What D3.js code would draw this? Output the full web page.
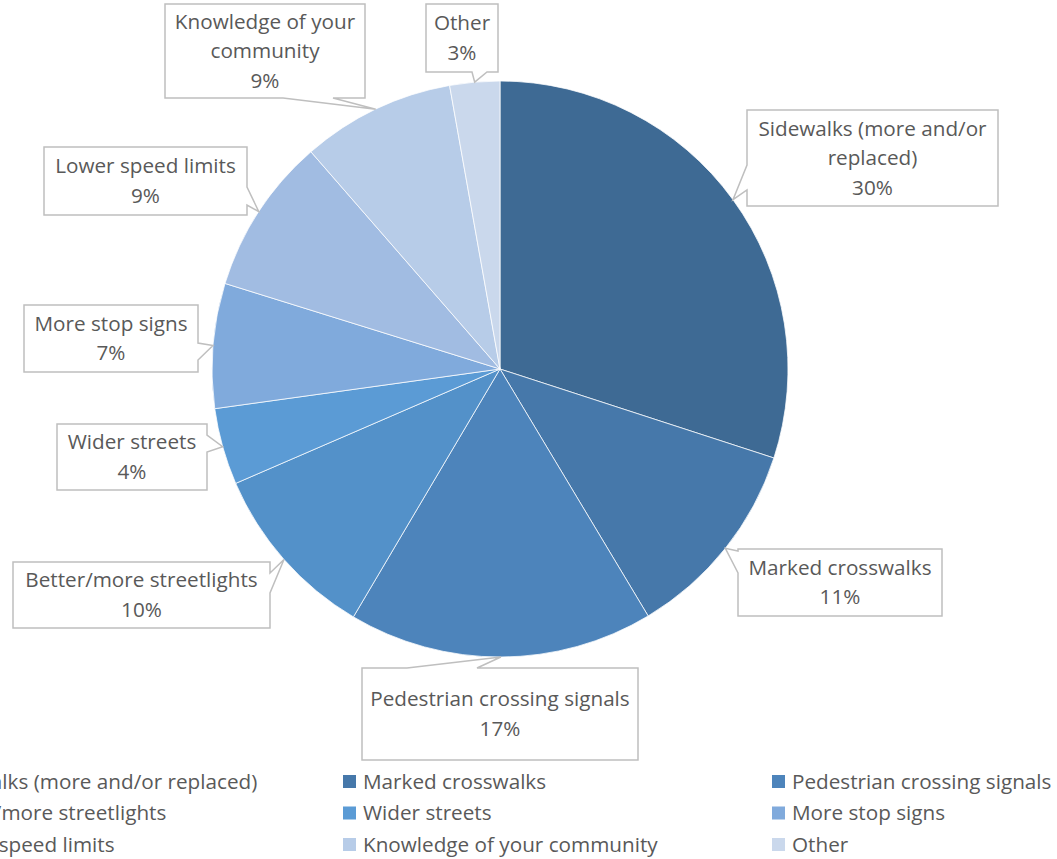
<!DOCTYPE html>
<html>
<head>
<meta charset="utf-8">
<script src="https://cdn.jsdelivr.net/npm/d3@7"></script>
<style>
  html, body { margin: 0; padding: 0; background: #fff; }
  svg { display: block; }
  text { font-family: "Open Sans", sans-serif; fill: #595959; }
</style>
</head>
<body>
<svg id="chart" width="1057" height="859"></svg>
<script>
// ---- data ----
const categories = [
  "Sidewalks (more and/or replaced)",
  "Marked crosswalks",
  "Pedestrian crossing signals",
  "Better/more streetlights",
  "Wider streets",
  "More stop signs",
  "Lower speed limits",
  "Knowledge of your community",
  "Other"
];
const values = [30.0, 11.4, 17.1, 10.0, 4.3, 7.0, 8.8, 8.6, 2.8];
const colors = ["#3E6A94", "#4678AA", "#4D84BB", "#5391C9", "#5B9BD5",
                "#80AADC", "#A1BCE2", "#B7CCE8", "#CAD8EC"];
// callout label lines (text wraps as in the source)
const labelLines = [
  ["Sidewalks (more and/or", "replaced)"],
  ["Marked crosswalks"],
  ["Pedestrian crossing signals"],
  ["Better/more streetlights"],
  ["Wider streets"],
  ["More stop signs"],
  ["Lower speed limits"],
  ["Knowledge of your", "community"],
  ["Other"]
];

// ---- layout (callout boxes: x, y, w, h, side of pointer, pointer base range) ----
const calloutLayout = [
  {x: 747, y: 110, w: 251, h: 96, side: "left",   a: 165, b: 190},
  {x: 738, y: 549, w: 204, h: 67, side: "left",   a: 551, b: 573},
  {x: 362, y: 668, w: 276, h: 92, side: "top",    a: 407, b: 477},
  {x: 13,  y: 562, w: 257, h: 66, side: "right",  a: 573, b: 593},
  {x: 57,  y: 424, w: 150, h: 66, side: "right",  a: 435, b: 452},
  {x: 24,  y: 305, w: 174, h: 67, side: "right",  a: 343, b: 360},
  {x: 44,  y: 147, w: 203, h: 68, side: "right",  a: 187, b: 205},
  {x: 165, y: 4,   w: 200, h: 94, side: "bottom", a: 283, b: 333},
  {x: 426, y: 4,   w: 72,  h: 68, side: "bottom", a: 472, b: 487}
];

const svg = d3.select("#chart");
const cx = 500, cy = 369, R = 288;
const total = d3.sum(values);
const pct = d3.format(".0%");
const fontSize = "20.7px";

const pie = d3.pie().sort(null).value(d => d)(values);
const arc = d3.arc().innerRadius(0).outerRadius(R);

const g = svg.append("g").attr("transform", `translate(${cx},${cy})`);
g.selectAll("path.slice")
  .data(pie)
  .join("path")
  .attr("class", "slice")
  .attr("d", arc)
  .attr("fill", (d, i) => colors[i])
  .attr("stroke", "#fff")
  .attr("stroke-width", 0.75);

// ---- callouts ----
function calloutPath(L, tip) {
  const x0 = L.x, y0 = L.y, x1 = L.x + L.w, y1 = L.y + L.h;
  const p = d3.path();
  p.moveTo(x0, y0);
  if (L.side === "top") { p.lineTo(L.a, y0); p.lineTo(tip[0], tip[1]); p.lineTo(L.b, y0); }
  p.lineTo(x1, y0);
  if (L.side === "right") { p.lineTo(x1, L.a); p.lineTo(tip[0], tip[1]); p.lineTo(x1, L.b); }
  p.lineTo(x1, y1);
  if (L.side === "bottom") { p.lineTo(L.b, y1); p.lineTo(tip[0], tip[1]); p.lineTo(L.a, y1); }
  p.lineTo(x0, y1);
  if (L.side === "left") { p.lineTo(x0, L.b); p.lineTo(tip[0], tip[1]); p.lineTo(x0, L.a); }
  p.closePath();
  return p.toString();
}

const labels = svg.append("g");
pie.forEach((d, i) => {
  const L = calloutLayout[i];
  const mid = (d.startAngle + d.endAngle) / 2;
  const tip = [cx + R * Math.sin(mid), cy - R * Math.cos(mid)];
  labels.append("path")
    .attr("d", calloutPath(L, tip))
    .attr("fill", "#fff")
    .attr("stroke", "#BFBFBF")
    .attr("stroke-width", 1.5);
  const lines = labelLines[i].concat([pct(values[i] / total)]);
  const lh = 29.5;
  const midY = L.y + L.h / 2;
  const startY = midY - (lines.length - 1) * lh / 2;
  const t = labels.append("text")
    .attr("text-anchor", "middle")
    .style("font-size", fontSize);
  lines.forEach((s, k) => {
    t.append("tspan")
      .attr("x", L.x + L.w / 2)
      .attr("y", startY + k * lh)
      .attr("dy", "0.35em")
      .text(s);
  });
});

// ---- legend ----
const legendCols = [-86, 343, 772];
const legendRows = [781.5, 813, 844.5];
const legend = svg.append("g");
categories.forEach((c, i) => {
  const col = i % 3, row = Math.floor(i / 3);
  const x = legendCols[col], y = legendRows[row];
  legend.append("rect")
    .attr("x", x).attr("y", y - 6.5)
    .attr("width", 13).attr("height", 13)
    .attr("fill", colors[i]);
  legend.append("text")
    .attr("x", x + 20).attr("y", y)
    .attr("dy", "0.35em")
    .style("font-size", fontSize)
    .text(c);
});
</script>
</body>
</html>
